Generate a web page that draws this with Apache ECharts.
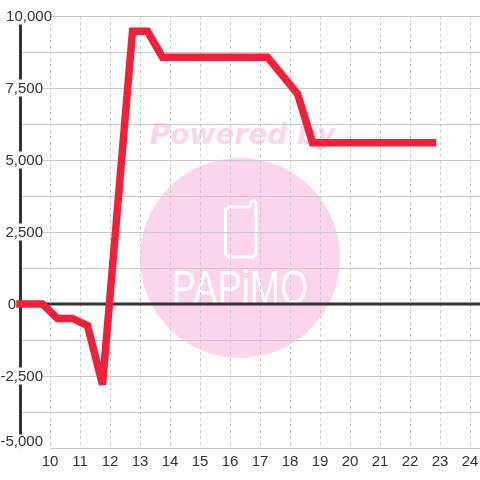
<!DOCTYPE html>
<html><head><meta charset="utf-8">
<style>html,body{margin:0;padding:0;background:#fff}#c{width:480px;height:480px}</style>
<script src="https://cdn.jsdelivr.net/npm/echarts@6/dist/echarts.min.js"></script>
</head><body><div id="c"></div>
<script>
var hours=[9,9.75,10.25,10.75,11.25,11.75,12.75,13.25,13.75,17.25,18.25,18.75,22.75];
var values=[0,0,-500,-500,-750,-2800,9470,9470,8570,8570,7300,5600,5600];
var xTickLabels=[10,11,12,13,14,15,16,17,18,19,20,21,22,23,24];
var zeroLineHours=[9,24.3333];
var zeroLineValues=[0,0];
var watermarkTop="Powered by";
var watermarkName="PAPiMO";
var chart=echarts.init(document.getElementById('c'),null,{renderer:'canvas'});
var pink='#fbd5ec', font='"Liberation Sans"';
chart.setOption({
 animation:false,
 backgroundColor:'#fff',
 grid:{left:20,right:0,top:16,bottom:32,containLabel:false,outerBoundsMode:'none'},
 graphic:{elements:[
  {type:'circle',z:-10,shape:{cx:240,cy:258,r:100},style:{fill:pink}},
  {type:'text',z:-10,x:242.5,y:137,style:{text:watermarkTop,fill:pink,font:'italic bold 28px "DejaVu Sans"',lineHeight:40,align:'center',verticalAlign:'middle'}},
  {type:'polyline',z:-9,shape:{points:[[250,207],[229,207],[225.5,210],[225.5,254],[229,257],[253,257],[256,254],[256,203],[254,200.5],[251,202],[250,207]]},style:{stroke:'#fff',lineWidth:3,fill:null,lineJoin:'round'}},
  {type:'text',z:-9,x:240,y:291,scaleX:1.21,scaleY:1.62,style:{text:watermarkName,fill:'#fff',font:'30px "Liberation Sans Narrow","Liberation Sans"',align:'center',verticalAlign:'middle'}}
 ]},
 xAxis:{
  type:'value',min:9,max:24.3333,interval:1,position:'bottom',
  axisLine:{show:false,onZero:false},axisTick:{show:false},
  axisLabel:{margin:6,color:'#333',fontFamily:font,fontSize:15,showMinLabel:false,showMaxLabel:false,
    formatter:function(v){return xTickLabels.indexOf(v)>=0?String(v):'';}},
  splitLine:{show:true,showMinLine:false,showMaxLine:false,lineStyle:{color:'#c8c8c8',width:1,type:[3,3]}}
 },
 yAxis:{
  type:'value',min:-5000,max:10000,interval:2500,
  axisLine:{show:true,onZero:false,lineStyle:{color:'#333',width:3}},
  axisTick:{show:false},
  axisLabel:{margin:-32,align:'right',color:'#333',fontFamily:font,fontSize:15,
   formatter:function(v){
    var s=Math.abs(v).toLocaleString('en-US');
    if(v<0)s='-'+s;
    if(v===10000)return '{a|'+s+'}';
    if(v===0)return '{z|'+s+'}{g0|}';
    if(v===-5000)return '{m|'+s+'}{g2|}\n{h| }';
    return '{a|'+s+'}{g|}';
   },
   rich:{
    a:{backgroundColor:'#fff',color:'#333',fontFamily:font,fontSize:15,lineHeight:16,padding:[2,0,0,0]},
    m:{backgroundColor:'#fff',color:'#333',fontFamily:font,fontSize:15,lineHeight:16,padding:[0,7,0,0]},
    z:{color:'#333',fontFamily:font,fontSize:15,lineHeight:16,padding:[2,0,0,0]},
    g:{width:9,lineHeight:16},
    g2:{width:2,lineHeight:16},
    g0:{width:36,lineHeight:16},
    h:{fontSize:8,lineHeight:12,height:12}
   }
  },
  splitLine:{show:true,lineStyle:{color:'#c8c8c8',width:1}},
  minorTick:{show:false,splitNumber:2},
  minorSplitLine:{show:true,lineStyle:{color:'#c8c8c8',width:1}}
 },
 series:[{
  type:'line',z:1,clip:false,symbol:'none',silent:true,
  data:zeroLineHours.map(function(h,i){return [h,zeroLineValues[i]];}),
  lineStyle:{color:'#333',width:3}
 },{
  type:'line',z:2,clip:false,symbol:'none',silent:true,
  data:hours.map(function(h,i){return [h,values[i]];}),
  lineStyle:{color:'#f02038',width:7.5,cap:'square',join:'miter',miterLimit:2}
 }]
});
</script></body></html>
